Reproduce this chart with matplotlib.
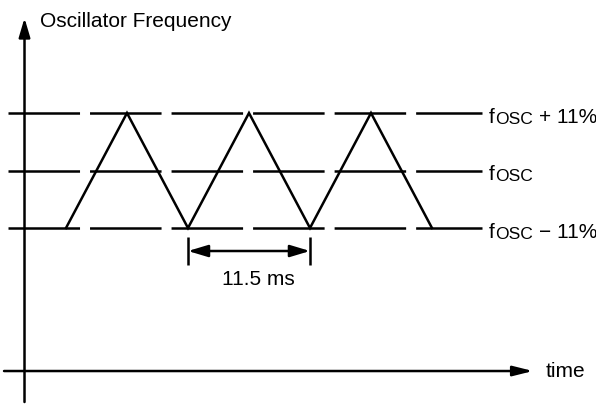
import numpy as np
import matplotlib
matplotlib.use("Agg")
import matplotlib.pyplot as plt

plt.rcParams["font.family"] = ["Liberation Sans", "DejaVu Sans"]
plt.rcParams["lines.scale_dashes"] = False

# Triangle sweep of the oscillator frequency (time in ms, deviation in %)
sweep_time_ms = [0.0, 5.75, 11.5, 17.25, 23.0, 28.75, 34.5]
sweep_dev_pct = [-11, 11, -11, 11, -11, 11, -11]

# Reference levels and their labels
level_pct = [11, 0, -11]
level_suffix = ["+ 11%", "", "\u2212 11%"]

# Dimension between two consecutive minima
period_ms = 11.5
period_start_ms = 11.5
period_label = "11.5 ms"

# Axis extents
t_axis = -3.91          # position of the vertical axis (ms)
y_time_axis = -38.36    # position of the time axis (%)
t_min, t_max = -6.22, 49.96
y_min, y_max = -44.86, 32.62

fig = plt.figure(figsize=(5.96, 4.05), dpi=100)
ax = fig.add_axes([0, 0, 1, 1])
ax.set_xlim(t_min, t_max)
ax.set_ylim(y_min, y_max)
ax.axis("off")

LW = 1.8
FS = 15.0
black = "black"

# Dashed reference levels, each ending in a short solid run before the label
line_start, line_end = -5.47, 39.21
for lvl, suffix in zip(level_pct, level_suffix):
    ax.plot([line_start, line_end], [lvl, lvl], color=black, lw=LW,
            linestyle=(0, (51.5, 7.2)), solid_capstyle="butt",
            dash_capstyle="butt")
    ax.annotate("f", xy=(line_end, lvl), xytext=(7, -9.5),
                textcoords="offset pixels", fontsize=FS, va="baseline",
                ha="left")
    ax.annotate("OSC", xy=(line_end, lvl), xytext=(13.5, -10.5),
                textcoords="offset pixels", fontsize=12.6, va="baseline",
                ha="left")
    if suffix:
        ax.annotate(suffix, xy=(line_end, lvl), xytext=(57, -9.5),
                    textcoords="offset pixels", fontsize=FS,
                    va="baseline", ha="left")

# Triangle waveform
ax.plot(sweep_time_ms, sweep_dev_pct, color=black, lw=LW,
        solid_joinstyle="miter")

# Axes with arrowheads
ax.annotate("", xy=(t_axis, 29.17), xytext=(t_axis, -44.29),
            arrowprops=dict(arrowstyle="-|>,head_length=1.15,head_width=0.34",
                            mutation_scale=10, lw=LW, color=black,
                            shrinkA=0, shrinkB=0))
ax.annotate("", xy=(44.02, y_time_axis), xytext=(-5.84, y_time_axis),
            arrowprops=dict(arrowstyle="-|>,head_length=1.2,head_width=0.3",
                            mutation_scale=10, lw=LW, color=black,
                            shrinkA=0, shrinkB=0))
ax.annotate("Oscillator Frequency", xy=(t_axis, 29.17), xytext=(15.5, -9),
            textcoords="offset pixels", fontsize=FS, va="baseline", ha="left")
ax.annotate("time", xy=(44.02, y_time_axis), xytext=(13, -6),
            textcoords="offset pixels", fontsize=FS, va="baseline", ha="left")

# Period dimension
t0 = period_start_ms
t1 = period_start_ms + period_ms
y_dim = -15.4
for t in (t0, t1):
    ax.plot([t, t], [-12.72, -18.08], color=black, lw=LW,
            solid_capstyle="butt")
ax.annotate("", xy=(t1, y_dim), xytext=(t0, y_dim),
            arrowprops=dict(arrowstyle="<|-|>,head_length=1.2,head_width=0.36",
                            mutation_scale=10, lw=LW, color=black,
                            shrinkA=0, shrinkB=0))
ax.annotate(period_label, xy=((t0 + t1) / 2, -21.9), xytext=(9, 0),
            textcoords="offset pixels", fontsize=FS, va="baseline",
            ha="center")

fig.savefig("out.png", dpi=100)
